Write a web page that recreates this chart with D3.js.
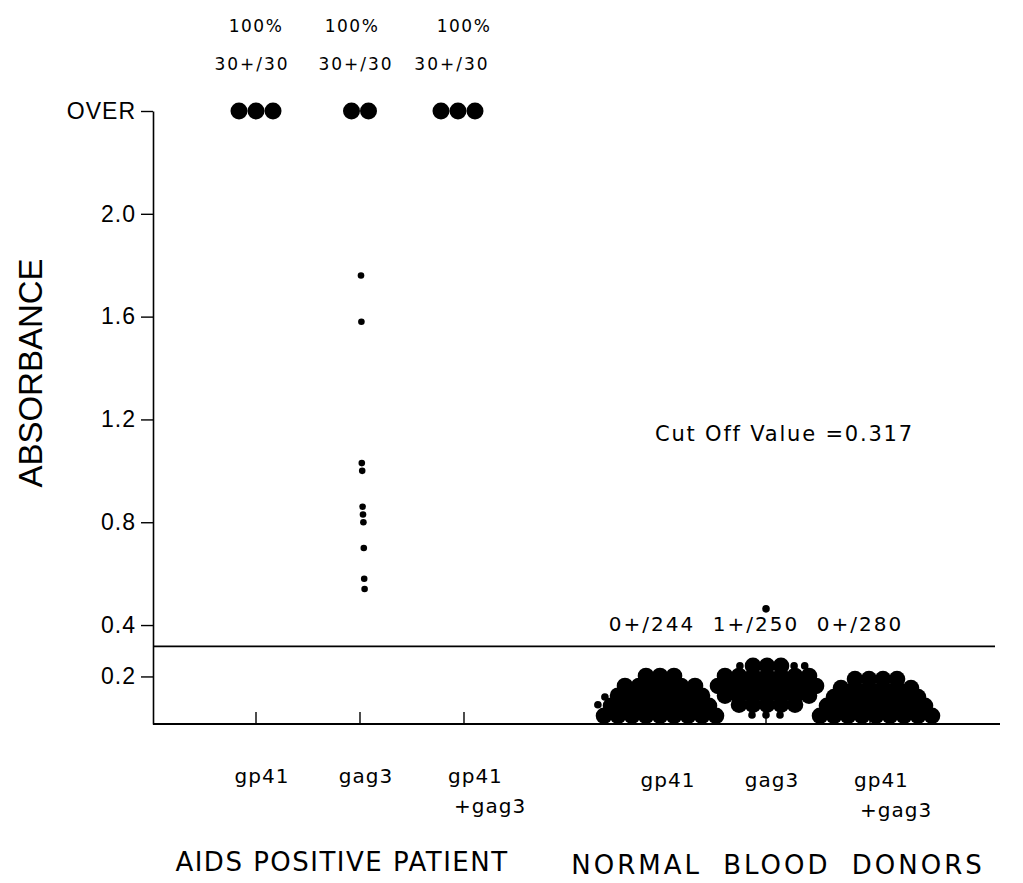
<!DOCTYPE html>
<html>
<head>
<meta charset="utf-8">
<script src="https://cdnjs.cloudflare.com/ajax/libs/d3/7.8.5/d3.min.js"></script>
<style>
body { margin: 0; background: #fff; }
svg { display: block; }
</style>
</head>
<body>
<svg></svg>
<script>
// chart values
var panels = ["AIDS POSITIVE PATIENT", "NORMAL BLOOD DONORS"];
var groups = ["gp41", "gag3", "gp41+gag3"];
var yTicks = [0.2, 0.4, 0.8, 1.2, 1.6, 2.0, 2.4];
var overLevel = 2.4; // "OVER" row
var cutOff = 0.317;

var patientPct = ["100%", "100%", "100%"];
var patientRatio = ["30+/30", "30+/30", "30+/30"];
var patientOver = [3, 2, 3];
var gag3Patient = [1.76, 1.58, 1.03, 1.0, 0.86, 0.83, 0.80, 0.70, 0.58, 0.54];

var donorRatio = ["0+/244", "1+/250", "0+/280"];
// large dots in the donor swarms: absorbance level of each row and how many dots sit on it
var gp41DonorLevels = [0.047, 0.086, 0.125, 0.163, 0.202];
var gp41DonorCounts = [9, 8, 7, 6, 3];
var gag3DonorLevels = [0.09, 0.125, 0.163, 0.202, 0.241];
var gag3DonorCounts = [5, 7, 8, 7, 3];
var comboDonorLevels = [0.047, 0.086, 0.12, 0.155, 0.19];
var comboDonorCounts = [9, 8, 7, 6, 4];
// small dots at the edges of the swarms
var gp41SmallLevels = [0.12, 0.09];
var gp41SmallSides = ["L", "L"];
var gag3SmallLevels = [0.241, 0.241, 0.241, 0.05, 0.05, 0.05, 0.463];
var gag3SmallSides = ["L", "R", "R", "C", "C", "C", "C"];
var comboSmallLevels = [];
var comboSmallSides = [];

var svg = d3.select("svg").attr("width", 1023).attr("height", 883);

var yScale = d3.scaleLinear().domain([0.015, overLevel]).range([724, 111]);
var panelScale = d3.scaleBand().domain(panels).range([157, 969]);
var groupScale = d3.scalePoint().domain(groups).range([0, panelScale.bandwidth()]).padding(0.952);
var xPos = function(panel, group) { return panelScale(panel) + groupScale(group); };

var plotRight = 1000;
var ink = "#000";
var labelFont = "DejaVu Sans, sans-serif";

// y axis
var yAxis = d3.axisLeft(yScale)
  .tickValues(yTicks)
  .tickSize(12)
  .tickSizeOuter(0)
  .tickPadding(5)
  .tickFormat(function(d) { return d === overLevel ? "OVER" : d3.format(".1f")(d); });
var yg = svg.append("g").attr("transform", "translate(153,0)").call(yAxis);
yg.select(".domain").attr("stroke", ink).attr("stroke-width", 1.6);
yg.selectAll(".tick line").attr("stroke", ink).attr("stroke-width", 1.4);
yg.selectAll(".tick text")
  .attr("font-family", "Liberation Sans, Arial, sans-serif")
  .attr("font-size", 23)
  .attr("letter-spacing", 1)
  .attr("fill", ink);

svg.append("text")
  .attr("transform", "translate(42,373) rotate(-90)")
  .attr("text-anchor", "middle")
  .attr("font-family", "Liberation Sans, Arial, sans-serif")
  .attr("font-size", 33)
  .text("ABSORBANCE");

// bottom axis and cut off line
svg.append("line")
  .attr("x1", 153).attr("x2", plotRight)
  .attr("y1", yScale(0.015)).attr("y2", yScale(0.015))
  .attr("stroke", ink).attr("stroke-width", 2);
svg.append("line")
  .attr("x1", 153).attr("x2", plotRight - 5)
  .attr("y1", yScale(cutOff)).attr("y2", yScale(cutOff))
  .attr("stroke", ink).attr("stroke-width", 1.8);

var cats = [];
panels.forEach(function(p) { groups.forEach(function(g) { cats.push({panel: p, group: g}); }); });
svg.selectAll(".xtick").data(cats).enter().append("line")
  .attr("class", "xtick")
  .attr("x1", function(d) { return xPos(d.panel, d.group); })
  .attr("x2", function(d) { return xPos(d.panel, d.group); })
  .attr("y1", yScale(0.015)).attr("y2", yScale(0.015) - 12)
  .attr("stroke", ink).attr("stroke-width", 1.4);

// category labels
cats.forEach(function(d) {
  var x = xPos(d.panel, d.group);
  var dy = d.panel === panels[1] ? 4 : 0;
  if (d.group === "gp41+gag3") {
    svg.append("text").attr("x", x - 16).attr("y", 783 + dy)
      .attr("font-family", labelFont).attr("font-size", 20).attr("letter-spacing", 1).text("gp41");
    svg.append("text").attr("x", x - 10).attr("y", 813 + dy)
      .attr("font-family", labelFont).attr("font-size", 20).attr("letter-spacing", 1).text("+gag3");
  } else {
    svg.append("text").attr("x", x + 6).attr("y", 783 + dy)
      .attr("text-anchor", "middle")
      .attr("font-family", labelFont).attr("font-size", 20).attr("letter-spacing", 1).text(d.group);
  }
});

svg.selectAll(".panel").data(panels).enter().append("text")
  .attr("class", "panel")
  .attr("x", function(d, i) { return panelScale(d) + panelScale.bandwidth() / 2 + (i === 0 ? -18 : 12); })
  .attr("y", function(d, i) { return 871 + i * 3; })
  .attr("text-anchor", "middle")
  .attr("font-family", labelFont)
  .attr("font-size", 26)
  .attr("letter-spacing", function(d, i) { return i === 0 ? 1.5 : 3; })
  .attr("word-spacing", function(d, i) { return i === 0 ? 0 : 10; })
  .text(function(d) { return d; });

// patient group: OVER dots, top labels, gag3 scatter
var overR = 8.5;
groups.forEach(function(g, i) {
  var cx = xPos(panels[0], g);
  var n = patientOver[i];
  var dots = d3.range(n);
  var nudge = i === 2 ? -6 : 0;
  svg.selectAll(".over" + i).data(dots).enter().append("circle")
    .attr("cx", function(k) { return cx + nudge + (k - (n - 1) / 2) * 17; })
    .attr("cy", yScale(overLevel))
    .attr("r", overR).attr("fill", ink);
  svg.append("text").attr("x", cx + (i === 1 ? -8 : 0)).attr("y", 32)
    .attr("text-anchor", "middle").attr("font-family", labelFont)
    .attr("font-size", 17).attr("letter-spacing", 1.5).text(patientPct[i]);
  svg.append("text").attr("x", cx + (i === 2 ? -12 : -4)).attr("y", 70)
    .attr("text-anchor", "middle").attr("font-family", labelFont)
    .attr("font-size", 17).attr("letter-spacing", 2).text(patientRatio[i]);
});

svg.selectAll(".pt").data(gag3Patient).enter().append("circle")
  .attr("class", "pt")
  .attr("cx", function(d, i) { return xPos(panels[0], "gag3") + 1 + i * 0.4; })
  .attr("cy", function(d) { return yScale(d); })
  .attr("r", 3.3).attr("fill", ink);

// donor swarms
var donorSets = [
  {levels: gp41DonorLevels, counts: gp41DonorCounts, small: gp41SmallLevels, sides: gp41SmallSides},
  {levels: gag3DonorLevels, counts: gag3DonorCounts, small: gag3SmallLevels, sides: gag3SmallSides},
  {levels: comboDonorLevels, counts: comboDonorCounts, small: comboSmallLevels, sides: comboSmallSides}
];
var bigR = 8.3, smallR = 3.8, step = 14;
var swarmNudge = [-2, 1, 6];

donorSets.forEach(function(set, gi) {
  var tickX = xPos(panels[1], groups[gi]);
  var cx = tickX + swarmNudge[gi];
  var big = [];
  set.levels.forEach(function(v, ri) {
    var n = set.counts[ri];
    d3.range(n).forEach(function(k) {
      big.push({x: cx + (k - (n - 1) / 2) * step, v: v});
    });
  });
  svg.selectAll(".big" + gi).data(big).enter().append("circle")
    .attr("cx", function(d) { return d.x; })
    .attr("cy", function(d) { return yScale(d.v); })
    .attr("r", bigR).attr("fill", ink);

  var used = {};
  var small = set.small.map(function(v, si) {
    var side = set.sides[si];
    var key = v + side;
    var k = used[key] || 0;
    used[key] = k + 1;
    var nearest = d3.least(set.levels, function(l) { return Math.abs(l - v); });
    var n = set.counts[set.levels.indexOf(nearest)];
    var half = (n - 1) / 2 * step + bigR + smallR + 1;
    var x;
    if (side === "C") {
      var nc = set.sides.filter(function(s, j) { return s === "C" && set.small[j] === v; }).length;
      x = tickX + (k - (nc - 1) / 2) * step;
    } else {
      x = cx + (side === "L" ? -1 : 1) * (half + k * (2 * smallR + 3));
    }
    return {x: x, v: v};
  });
  svg.selectAll(".small" + gi).data(small).enter().append("circle")
    .attr("cx", function(d) { return d.x; })
    .attr("cy", function(d) { return yScale(d.v); })
    .attr("r", smallR).attr("fill", ink);

  svg.append("text").attr("x", tickX - 10).attr("y", 631)
    .attr("text-anchor", "middle").attr("font-family", labelFont)
    .attr("font-size", 20).attr("letter-spacing", 2).text(donorRatio[gi]);
});

svg.append("text").attr("x", 655).attr("y", 441)
  .attr("font-family", labelFont).attr("font-size", 21)
  .attr("letter-spacing", 1.8)
  .text("Cut Off Value =" + cutOff);
</script>
</body>
</html>
